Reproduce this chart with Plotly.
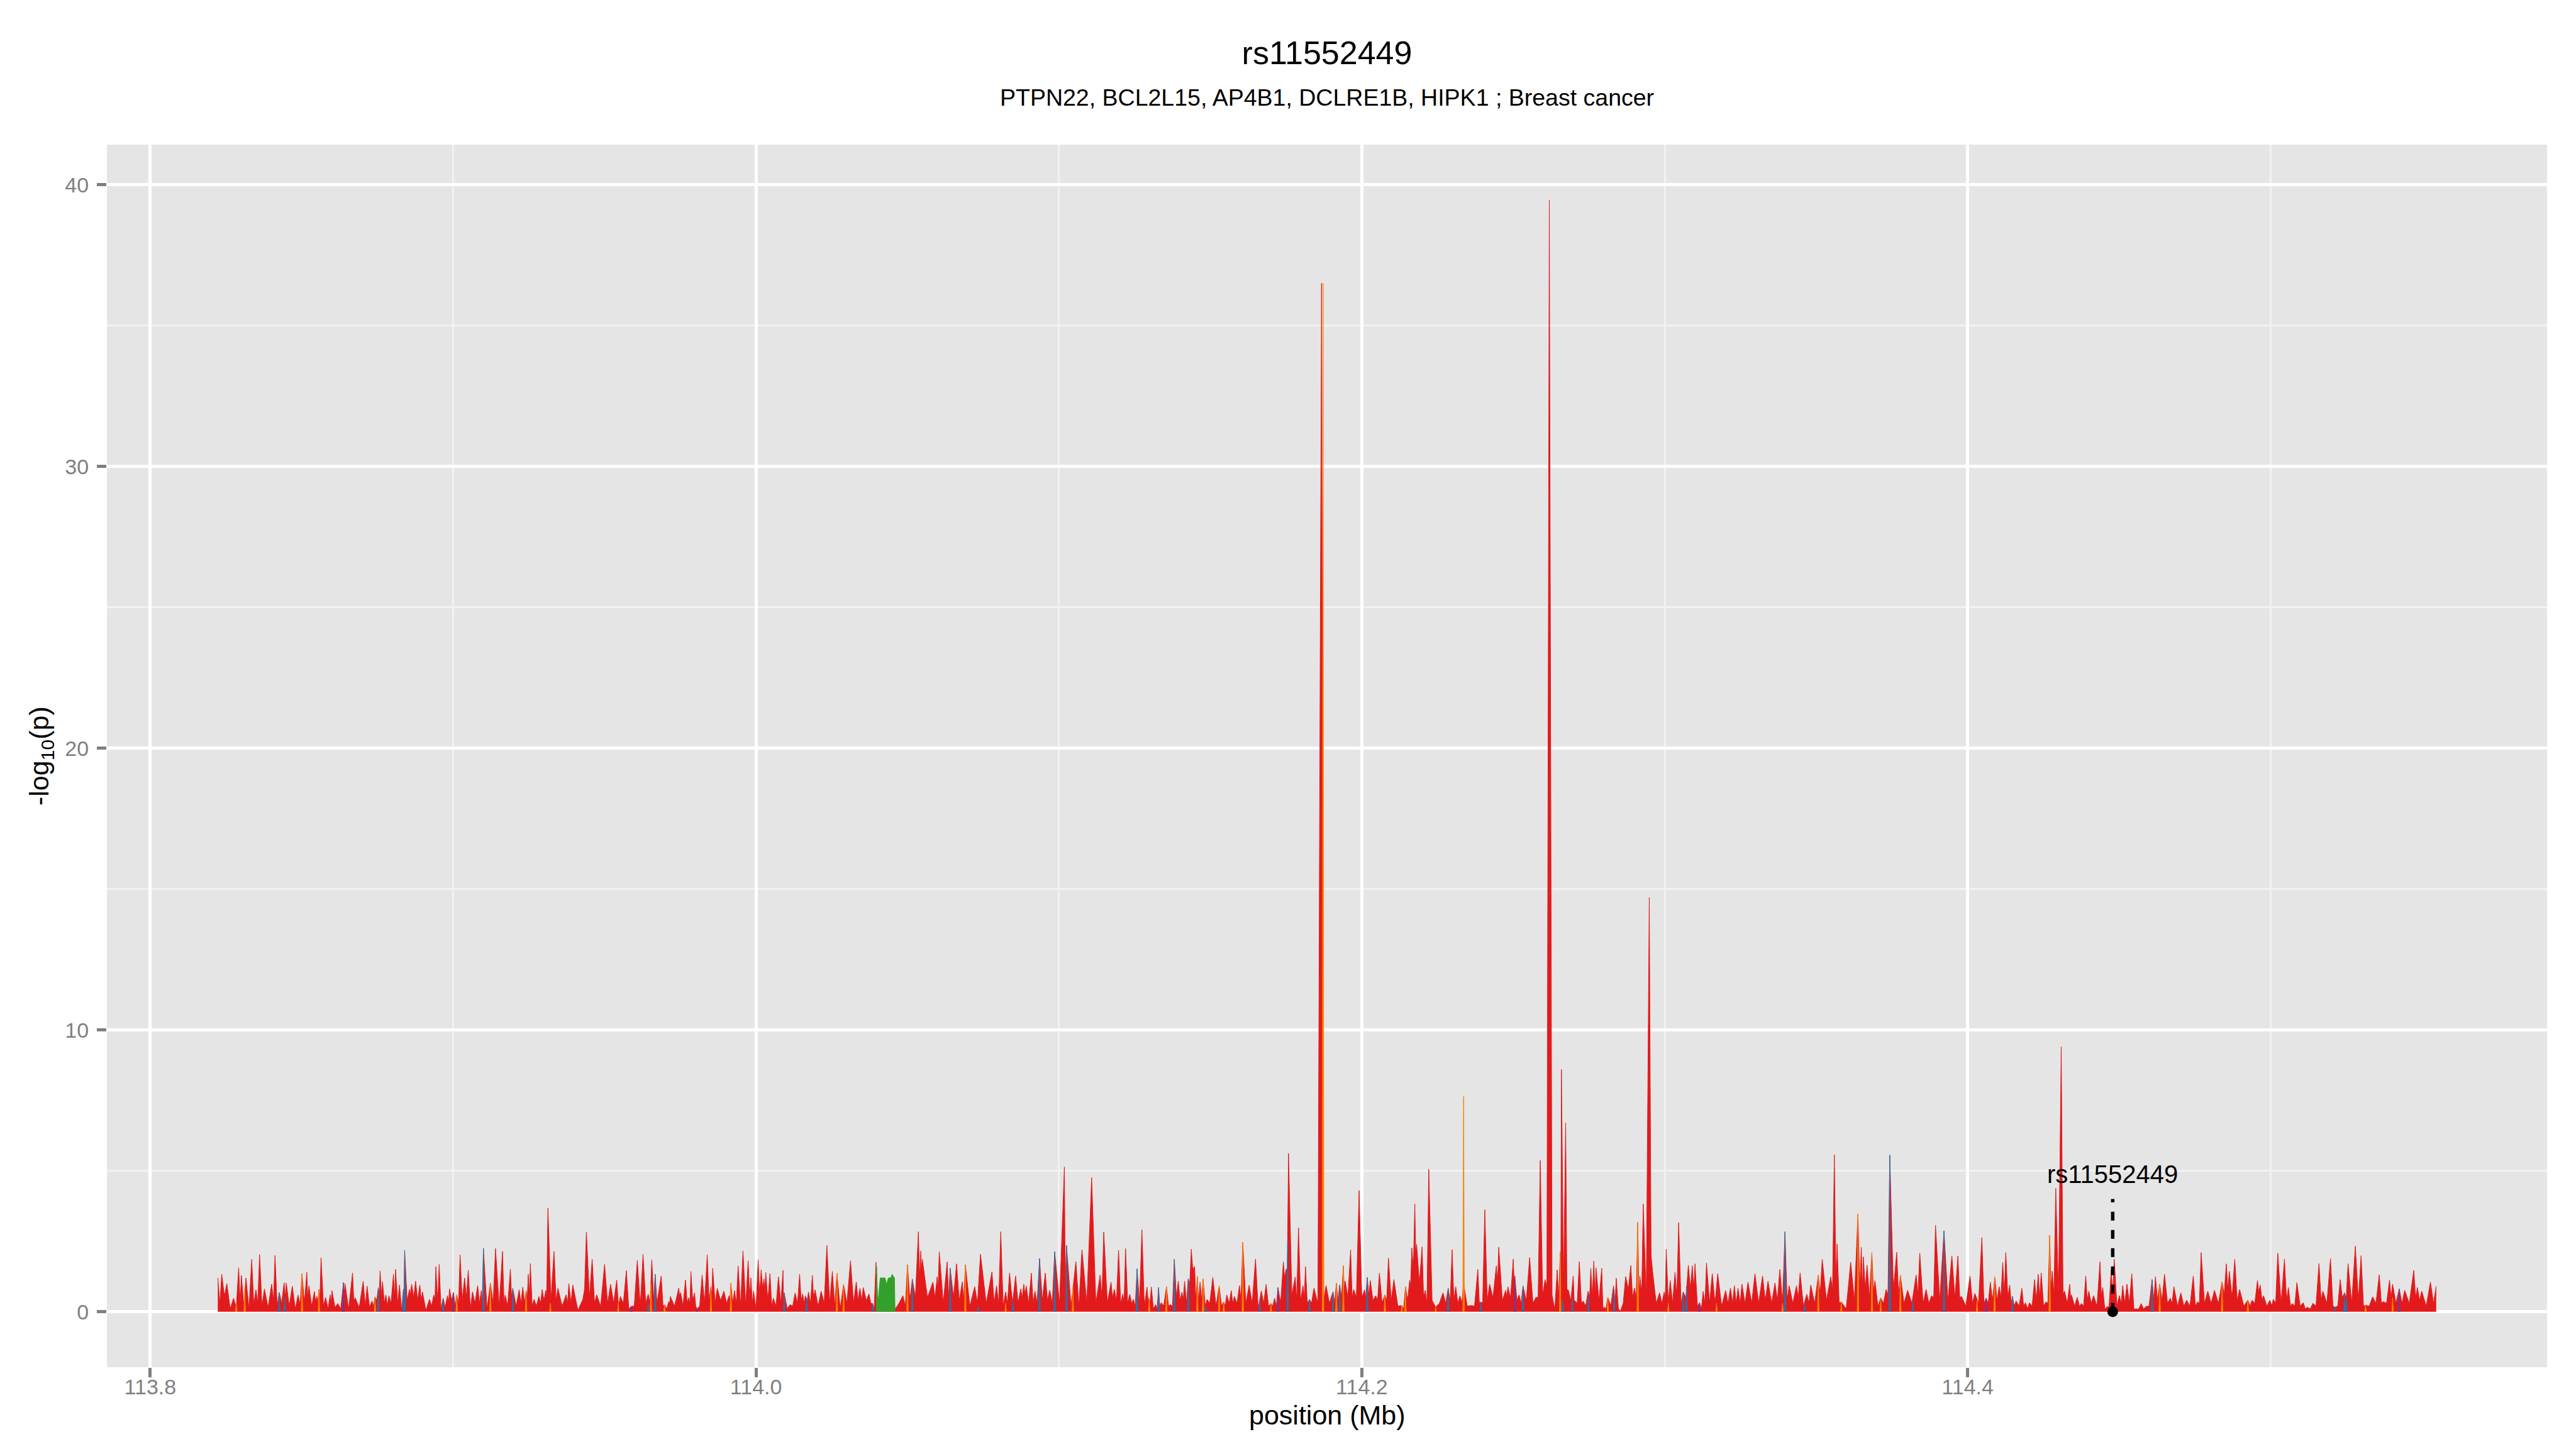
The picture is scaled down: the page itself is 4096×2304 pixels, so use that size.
import plotly.graph_objects as go

# ---------------- data (positions in kb, values = -log10 p) ----------------
red_seg1 = [(113822.3,1.2),(113823.0,0.3),(113823.6,1.33),(113824.5,0.55),(113825.3,1.0),(113826.4,0.1),(113827.5,0.48),(113828.4,0.15),(113829.2,1.56),(113829.7,0.3),(113830.1,1.29),(113830.9,0.2),(113831.6,1.2),(113832.6,0.1),(113833.5,1.86),(113834.2,0.25),(113834.9,0.78),(113835.5,0.3),(113836.1,2.03),(113836.9,0.2),(113837.7,0.81),(113838.9,0.15),(113840.1,0.98),(113840.7,0.4),(113841.2,2.0),(113841.9,0.2),(113842.6,0.68),(113843.4,0.3),(113844.2,1.03),(113844.6,0.5),(113844.9,1.02),(113845.9,0.2),(113846.9,0.91),(113847.9,0.1),(113848.8,0.59),(113849.5,0.25),(113850.1,1.35),(113850.9,0.3),(113851.7,1.4),(113852.0,0.5),(113852.4,0.92),(113853.3,0.2),(113854.2,0.72),(113854.6,0.35),(113855.0,0.54),(113855.3,0.3),(113855.7,0.79),(113856.0,0.4),(113856.4,1.92),(113857.2,0.2),(113857.9,0.51),(113858.7,0.1),(113859.4,0.6),(113859.7,0.3),(113860.0,0.75),(113861.0,0.15),(113861.9,0.29),(113862.9,0.1),(113863.8,1.03),(113864.0,0.6),(113864.3,1.0),(113865.5,0.1),(113866.8,1.38),(113867.2,0.4),(113867.7,0.49),(113869.0,0.15),(113870.3,1.08),(113871.0,0.2),(113871.6,0.91),(113872.4,0.15),(113873.2,0.38),(113873.7,0.2),(113874.2,0.53),(113874.8,0.4),(113875.3,0.86),(113875.6,0.6),(113875.9,1.45),(113876.3,0.6),(113876.7,1.06),(113877.3,0.3),(113877.8,0.6),(113878.3,0.2),(113878.8,0.57),(113879.5,0.3),(113880.3,1.33),(113880.7,0.5),(113881.0,1.5),(113881.7,0.3),(113882.3,0.95),(113883.0,0.05),(113883.6,0.8),(113883.8,0.5),(113884.0,2.18),(113884.8,0.4),(113885.6,0.79),(113885.9,0.6),(113886.3,0.98),(113887.0,0.5),(113887.6,1.09),(113888.3,0.4),(113889.0,0.95),(113889.5,0.4),(113889.9,0.7),(113891.0,0.05),(113892.2,0.44),(113892.9,0.2),(113893.6,0.59),(113894.0,0.4),(113894.3,1.6),(113894.9,0.3),(113895.4,1.68),(113896.0,0.1),(113896.7,0.48),(113897.4,0.15),(113898.1,0.57),(113898.5,0.3),(113898.8,0.81),(113899.5,0.4),(113900.1,0.68),(113900.7,0.2),(113901.2,0.6),(113901.8,0.3),(113902.3,2.02),(113903.0,0.4),(113903.8,1.2),(113904.4,0.5),(113905.0,1.47),(113905.7,0.1),(113906.4,0.71),(113907.2,0.3),(113908.1,0.93),(113908.7,0.3),(113909.3,0.75),(113909.6,0.3),(113910.0,2.25),(113911.2,0.1),(113912.3,1.02),(113913.2,0.3),(113914.0,2.24),(113915.2,0.2),(113916.3,2.14),(113916.8,0.3),(113917.2,0.59),(113918.0,0.2),(113918.9,1.52),(113919.3,0.5),(113919.7,0.83),(113920.8,0.2),(113921.8,0.78),(113922.4,0.3),(113923.0,0.87),(113923.6,0.3),(113924.1,0.74),(113924.5,0.5),(113924.8,1.33),(113925.2,0.6),(113925.5,1.71),(113926.1,0.2),(113926.7,0.44),(113927.5,0.2),(113928.3,0.54),(113928.9,0.3),(113929.4,0.79),(113930.0,0.4),(113930.6,0.76),(113930.9,0.6),(113931.3,3.68),(113932.3,0.4),(113933.3,2.14),(113934.0,0.4),(113934.6,0.83),(113936.0,0.2),(113937.3,0.6),(113937.8,0.3),(113938.2,1.0),(113938.9,0.3),(113939.5,0.95),(113941.2,0.05),(113942.8,0.43),(113943.4,0.8),(113944.0,2.83),(113945.0,0.5),(113945.9,1.86),(113946.7,0.3),(113947.4,0.6),(113948.7,0.2),(113950.0,1.68),(113951.0,0.3),(113952.0,0.97),(113953.0,0.3),(113954.0,1.13),(113954.6,0.2),(113955.2,0.54),(113956.2,0.3),(113957.2,1.46),(113958.0,0.1),(113958.8,0.19),(113959.8,0.2),(113960.8,1.82),(113961.8,0.2),(113962.7,2.04),(113963.6,0.3),(113964.4,0.62),(113965.0,0.3),(113965.6,1.84),(113966.2,0.4),(113966.7,1.33),(113967.3,0.3)]

red_seg2 = [(113968.7,1.27),(113969.3,0.2),(113969.8,0.25),(113970.5,0.1),(113971.2,0.36),(113971.5,0.3),(113971.7,0.54),(113973.1,0.2),(113974.5,0.84),(113974.8,0.5),(113975.1,0.68),(113975.9,0.2),(113976.7,1.13),(113977.3,0.3),(113977.8,0.5),(113978.2,0.3),(113978.5,1.43),(113979.1,0.4),(113979.7,0.67),(113980.1,0.2),(113980.5,0.1),(113981.4,0.2),(113982.2,1.3),(113983.0,0.3),(113983.9,2.02),(113984.5,0.4),(113985.1,0.89),(113985.4,0.6),(113985.7,1.54),(113986.5,0.3),(113987.2,0.83),(113988.3,0.4),(113989.4,0.73),(113990.3,0.3),(113991.1,0.57),(113991.4,0.4),(113991.7,1.02),(113992.3,0.3),(113992.9,0.75),(113993.5,0.3),(113994.1,1.62),(113994.9,0.2),(113995.7,2.16),(113996.6,0.2),(113997.4,1.81),(113997.9,0.5),(113998.3,1.2),(113998.8,0.3),(113999.2,0.73),(114000.0,0.1),(114000.7,1.84),(114001.2,0.6),(114001.7,1.49),(114002.2,0.8),(114002.6,1.17),(114002.9,0.7),(114003.2,1.4),(114003.9,0.4),(114004.6,1.35),(114005.2,0.2),(114005.7,0.48),(114006.6,0.2),(114007.4,1.24),(114008.2,0.3),(114008.9,1.47),(114009.1,0.3),(114009.3,0.67),(114010.3,0.1),(114011.2,0.25),(114012.1,0.2),(114012.9,0.67),(114013.7,0.3),(114014.4,1.33),(114014.9,0.4),(114015.4,0.63),(114015.9,0.3),(114016.3,0.57),(114016.8,0.3),(114017.3,0.7),(114018.0,0.3),(114018.6,1.29),(114019.0,0.5),(114019.5,0.78),(114020.5,0.2),(114021.5,0.73),(114022.5,0.3),(114023.4,2.35),(114024.3,0.3),(114025.2,1.43),(114026.0,0.2),(114026.7,1.37),(114027.8,0.1),(114028.9,0.97),(114030.0,0.3),(114031.2,1.81),(114032.2,0.3),(114033.1,1.06),(114033.7,0.4),(114034.3,0.83),(114034.9,0.4),(114035.4,0.86),(114036.4,0.4),(114037.3,0.63),(114037.9,0.3),(114038.5,0.29),(114039.0,0.1),(114039.6,1.76),(114040.2,0.2),(114041.0,0.3),(114043.0,0.2),(114045.0,0.3),(114046.0,0.1),(114047.2,0.3),(114048.5,0.57),(114049.3,0.2),(114050.0,1.67),(114050.8,0.4),(114051.6,1.16),(114052.6,0.5),(114053.6,2.84),(114054.0,1.2),(114054.4,2.16),(114054.6,1.5),(114054.9,1.87),(114056.6,0.5),(114058.4,1.05),(114059.1,0.5),(114059.8,1.24),(114060.1,0.8),(114060.5,2.13),(114061.8,0.3),(114063.1,1.77),(114063.6,0.5),(114064.1,1.54),(114065.2,0.5),(114066.2,1.7),(114067.1,0.4),(114068.1,1.06),(114068.6,0.4),(114069.1,1.67),(114070.6,0.2),(114072.2,0.89),(114073.1,0.3),(114074.1,2.04),(114076.0,0.3),(114077.9,1.42),(114078.6,0.3),(114079.4,0.92),(114080.1,0.3),(114080.8,2.84),(114081.6,0.2),(114082.4,0.7),(114083.0,0.3),(114083.7,1.37),(114084.7,0.3),(114085.7,1.27),(114086.5,0.3),(114087.4,0.81),(114087.9,0.5),(114088.4,0.98),(114088.8,0.6),(114089.2,0.92),(114090.0,0.3),(114090.9,1.37),(114091.5,0.3),(114092.1,0.73),(114092.8,0.3),(114093.6,1.89),(114094.5,0.4),(114095.5,1.37),(114096.2,0.4),(114097.0,0.76),(114097.8,0.3),(114098.6,2.13),(114100.2,0.3),(114101.8,5.14),(114102.1,1.0),(114102.5,2.35),(114104.0,0.2),(114105.6,1.78),(114106.6,0.2),(114107.6,2.2),(114109.2,0.3),(114110.8,4.76),(114112.2,0.3),(114113.6,1.3),(114114.2,0.5),(114114.8,2.83)]

red_seg3 = [(114116.0,0.3),(114117.2,1.05),(114117.7,0.5),(114118.3,0.79),(114119.0,0.4),(114119.7,2.18),(114120.4,0.3),(114121.1,0.63),(114121.5,0.3),(114122.0,2.24),(114122.7,0.3),(114123.4,0.62),(114124.0,0.3),(114124.6,0.44),(114125.2,0.2),(114125.8,1.52),(114126.6,0.3),(114127.4,2.91),(114128.2,0.2),(114129.1,0.87),(114129.4,0.4),(114129.8,0.48),(114130.1,0.3),(114130.5,0.88),(114131.2,0.1),(114131.9,0.25),(114132.4,0.1),(114132.9,0.86),(114133.3,0.2),(114133.8,0.32),(114134.6,0.2),(114135.5,0.89),(114136.2,0.2),(114136.8,0.25),(114137.5,0.2),(114138.1,1.86),(114138.8,0.5),(114139.4,1.09),(114140.0,0.4),(114140.6,0.69),(114141.0,0.4),(114141.5,1.08),(114142.1,0.3),(114142.7,1.17),(114143.2,1.0),(114143.7,2.22),(114144.2,1.5),(114144.8,1.61),(114145.2,0.4),(114145.7,1.25),(114146.1,0.3),(114146.6,1.05),(114147.1,0.4),(114147.6,1.16),(114148.3,0.2),(114148.9,0.44),(114149.8,0.3),(114150.8,1.22),(114151.9,0.2),(114152.9,0.92),(114153.7,0.2),(114154.4,0.35),(114154.9,0.2),(114155.4,0.6),(114156.2,0.3),(114156.9,0.75),(114157.4,0.3),(114157.9,0.54),(114158.8,0.3),(114159.6,0.93),(114160.1,0.4),(114160.7,2.46),(114161.7,0.3),(114162.8,0.94),(114163.8,0.3),(114164.9,1.87),(114165.8,0.1),(114166.8,0.74),(114167.6,0.3),(114168.4,0.97),(114169.2,0.2),(114170.0,0.29),(114170.6,0.2),(114171.2,0.48),(114171.8,0.2),(114172.3,0.86),(114173.2,0.3),(114174.1,1.77),(114174.5,1.2),(114175.0,1.51),(114175.4,1.5),(114175.8,5.62),(114176.9,0.6),(114178.0,1.23),(114178.5,0.4),(114179.1,2.98),(114179.8,0.4),(114180.6,0.92),(114181.0,0.5),(114181.4,1.6),(114182.0,0.3),(114182.7,0.44),(114183.4,0.3),(114184.2,0.84),(114185.5,0.3),(114186.7,36.5),(114187.4,0.4),(114188.2,0.93),(114189.3,0.3),(114190.5,0.71),(114191.0,0.3),(114191.6,1.02),(114192.1,0.4),(114192.7,0.95),(114193.3,0.5),(114193.9,1.63),(114194.2,0.8),(114194.5,1.09),(114195.4,0.5),(114196.3,2.2),(114196.8,0.5),(114197.3,0.79),(114198.2,0.5),(114199.1,4.3),(114200.0,0.5),(114200.9,0.78),(114201.3,0.5),(114201.8,1.22),(114202.3,0.6),(114202.8,1.11),(114203.7,0.4),(114204.6,0.57),(114205.2,0.4),(114205.8,1.37),(114206.7,0.3),(114207.6,0.6),(114208.2,0.4),(114208.8,1.9),(114209.7,0.4),(114210.6,1.14),(114211.9,0.2),(114213.2,0.22),(114213.8,0.1),(114214.4,0.89),(114215.1,0.4),(114215.8,1.12),(114216.1,0.9),(114216.5,2.27),(114217.0,1.5),(114217.5,3.82),(114217.8,2.0),(114218.1,2.39),(114219.0,1.0),(114219.9,2.3),(114220.4,0.5),(114220.9,0.76),(114221.5,0.3),(114222.1,5.06),(114223.2,0.4),(114224.4,0.16),(114225.6,0.3),(114226.8,0.67),(114227.7,0.3),(114228.5,0.83),(114229.2,0.4),(114229.8,2.2),(114230.4,0.4),(114231.0,0.89),(114231.7,0.3),(114232.4,0.57),(114233.0,0.3),(114233.6,1.0),(114234.8,0.2),(114236.0,0.22),(114237.2,0.2),(114238.3,1.5),(114238.8,0.3),(114239.2,0.35),(114239.9,0.3),(114240.6,3.62),(114241.4,0.4),(114242.2,0.98),(114243.3,0.5),(114244.4,1.63),(114244.8,1.0),(114245.2,2.29),(114246.4,0.4),(114247.5,0.76),(114247.9,0.5),(114248.2,0.89),(114249.1,0.5),(114250.0,1.87),(114250.3,1.0),(114250.5,1.27),(114251.2,0.4),(114251.9,0.6),(114252.6,0.3),(114253.2,0.92),(114254.3,0.4),(114255.4,1.92),(114256.5,0.3),(114257.5,0.51),(114258.2,0.5),(114258.9,5.37),(114259.7,0.6),(114260.5,1.14),(114261.1,0.9),(114261.9,39.45)]

red_seg4 = [(114262.8,0.6),(114263.7,0.06),(114264.5,1.49),(114265.0,0.5),(114265.5,2.13),(114265.7,1.0),(114265.9,8.6),(114266.6,0.8),(114267.3,6.7),(114267.7,0.8),(114268.2,0.76),(114269.0,0.4),(114269.8,1.27),(114270.1,0.4),(114270.4,0.38),(114271.1,0.3),(114271.8,1.78),(114272.5,0.3),(114273.1,0.38),(114273.9,0.2),(114274.7,0.73),(114275.2,0.5),(114275.6,1.54),(114276.1,0.5),(114276.6,1.8),(114277.0,0.5),(114277.3,1.56),(114278.3,0.4),(114279.2,1.54),(114279.6,0.1),(114280.0,0.16),(114280.6,0.1),(114281.2,0.51),(114282.2,0.2),(114283.1,0.92),(114283.6,0.3),(114284.0,1.19),(114284.7,0.1),(114285.4,0.03),(114286.3,0.3),(114287.1,1.25),(114288.0,0.8),(114288.8,1.64),(114289.4,0.5),(114290.0,0.84),(114290.6,0.5),(114291.1,3.17),(114291.5,0.5),(114291.8,1.27),(114292.4,0.6),(114292.9,3.83),(114293.9,0.5),(114294.9,14.7),(114295.5,2.0),(114296.1,1.33),(114297.2,0.3),(114298.3,0.67),(114299.1,0.3),(114299.8,0.7),(114300.2,0.5),(114300.5,2.22),(114301.2,0.3),(114301.8,1.11),(114302.6,0.3),(114303.4,1.4),(114304.0,0.5),(114304.6,3.16),(114305.4,0.3),(114306.1,0.7),(114307.0,0.5),(114307.8,1.65),(114308.5,0.8),(114309.1,1.63),(114309.6,0.8),(114310.0,1.7),(114310.8,0.2),(114311.5,0.32),(114312.1,0.1),(114312.7,0.72),(114313.3,0.3),(114313.8,1.73),(114314.8,0.3),(114315.7,1.35),(114316.6,0.3),(114317.5,1.35),(114318.8,0.2),(114320.1,0.75),(114320.9,0.3),(114321.7,0.84),(114322.4,0.3),(114323.0,0.92),(114323.6,0.3),(114324.2,0.83),(114324.9,0.3),(114325.5,0.98),(114326.5,0.3),(114327.5,1.05),(114328.7,0.3),(114329.8,1.35),(114331.0,0.3),(114332.3,1.27),(114333.2,0.4),(114334.1,1.09),(114335.3,0.3),(114336.4,1.02),(114337.2,0.4),(114338.0,1.5),(114338.9,0.3),(114339.7,2.84),(114340.4,0.4),(114341.1,0.92),(114342.3,0.3),(114343.5,0.92),(114344.1,0.5),(114344.7,1.38),(114345.8,0.2),(114346.9,0.62),(114347.6,0.3),(114348.2,0.95),(114349.5,0.3),(114350.7,1.3),(114351.3,0.6),(114352.0,1.86),(114353.4,0.4),(114354.8,1.24),(114355.4,0.8),(114356.0,5.57),(114356.5,1.2),(114356.9,2.41),(114357.6,0.3),(114358.3,0.35),(114359.9,0.1),(114361.4,1.76),(114362.6,0.4),(114363.8,3.47),(114364.4,0.8),(114364.9,2.29),(114365.3,0.8),(114365.6,1.95),(114366.2,0.8),(114366.8,1.65),(114367.6,0.5),(114368.4,2.1),(114368.9,0.7),(114369.4,1.1),(114370.4,0.2),(114371.3,0.49),(114372.2,0.3),(114373.1,0.79),(114373.7,0.6),(114374.3,5.56),(114375.5,0.8),(114376.6,2.11),(114377.2,0.6),(114377.8,1.29),(114379.0,0.3),(114380.2,0.76),(114381.6,0.3),(114383.0,1.31),(114383.6,0.6),(114384.2,2.08),(114385.3,0.3),(114386.3,0.79),(114387.2,0.3),(114388.1,0.57),(114388.8,0.5),(114389.4,3.07),(114390.8,0.4),(114392.2,2.87),(114393.5,0.4),(114394.8,1.98),(114395.8,0.5),(114396.8,1.98),(114397.4,0.5),(114398.0,0.54),(114399.4,0.2),(114400.8,1.27),(114401.6,0.3),(114402.4,0.65),(114403.6,0.3),(114404.7,2.63),(114405.4,0.3),(114406.1,0.48),(114406.8,0.3),(114407.5,1.05),(114408.2,0.4)]

red_seg5 = [(114409.0,1.2),(114409.7,0.4),(114410.4,0.89),(114411.0,0.5),(114411.6,1.75),(114412.1,0.6),(114412.6,2.1),(114413.3,0.5),(114413.9,0.95),(114414.4,0.3),(114414.8,0.54),(114415.4,0.2),(114416.0,0.38),(114417.0,0.2),(114417.9,0.83),(114418.5,0.2),(114419.1,0.32),(114419.8,0.1),(114420.4,0.32),(114421.3,0.2),(114422.1,1.14),(114422.7,0.4),(114423.3,1.33),(114423.8,0.5),(114424.3,1.38),(114425.1,0.2),(114425.9,0.35),(114426.5,0.3),(114427.1,2.71),(114427.5,0.8),(114427.9,1.44),(114428.5,0.6),(114429.1,4.38),(114430.0,0.6),(114430.9,9.4),(114431.5,0.6),(114432.0,0.73),(114432.9,0.3),(114433.7,0.97),(114434.0,0.5),(114434.3,0.6),(114435.3,0.2),(114436.2,0.51),(114436.9,0.2),(114437.6,0.29),(114438.3,0.2),(114439.0,1.27),(114439.5,0.4),(114440.0,0.73),(114440.8,0.3),(114441.6,0.57),(114442.7,0.2),(114443.7,1.77),(114444.2,0.5),(114444.6,0.86),(114445.3,0.1),(114445.9,0.16),(114446.7,0.2),(114447.4,1.49),(114447.9,0.6),(114448.4,1.86),(114449.3,0.2),(114450.1,0.57),(114450.7,0.3),(114451.2,0.93),(114451.9,0.3),(114452.6,0.98),(114453.4,0.3),(114454.2,1.35),(114454.9,0.1),(114455.6,0.1),(114456.5,0.1),(114457.3,0.29),(114458.1,0.1),(114458.9,0.19),(114459.9,0.2),(114460.9,1.14),(114461.5,0.4),(114462.0,1.24),(114462.7,0.4),(114463.4,0.98),(114464.2,0.4),(114465.0,1.33),(114466.0,0.3),(114466.9,0.48),(114467.5,0.3),(114468.1,0.89),(114469.3,0.2),(114470.4,0.67),(114471.4,0.2),(114472.3,0.41),(114473.4,0.2),(114474.5,1.27),(114475.2,0.2),(114475.9,0.35),(114476.5,0.3),(114477.1,2.1),(114478.2,0.3),(114479.3,0.73),(114480.4,0.3),(114481.5,0.76),(114482.8,0.3),(114484.0,1.06),(114484.7,0.6),(114485.4,1.7),(114485.9,0.8),(114486.4,1.43),(114487.3,0.5),(114488.2,1.86),(114489.0,0.4),(114489.8,0.79),(114491.2,0.2),(114492.5,0.41),(114493.2,0.2),(114493.9,0.41),(114494.8,0.3),(114495.7,1.11),(114496.1,0.7),(114496.6,0.95),(114497.2,0.4),(114497.7,0.57),(114498.8,0.2),(114499.8,0.41),(114500.4,0.2),(114500.9,0.44),(114501.7,0.3),(114502.4,2.08),(114503.5,0.3),(114504.6,1.87),(114505.3,0.4),(114505.9,0.86),(114506.6,0.2),(114507.2,0.29),(114508.0,0.2),(114508.7,1.03),(114509.8,0.2),(114510.8,0.32),(114511.5,0.1),(114512.2,0.16),(114513.1,0.1),(114514.0,0.3),(114515.0,0.2),(114516.0,1.71),(114516.7,0.4),(114517.3,0.73),(114518.6,0.3),(114519.8,1.89),(114520.6,0.2),(114521.3,0.16),(114522.2,0.2),(114523.0,1.14),(114523.7,0.5),(114524.4,0.67),(114525.0,0.5),(114525.6,1.71),(114526.8,0.3),(114528.0,2.33),(114529.0,0.4),(114529.9,1.99),(114530.7,0.2),(114531.4,0.23),(114532.6,0.2),(114533.7,0.53),(114534.8,0.3),(114535.9,1.31),(114536.6,0.3),(114537.2,0.36),(114538.3,0.3),(114539.3,1.12),(114539.8,0.5),(114540.3,0.98),(114541.4,0.3),(114542.5,0.81),(114543.4,0.3),(114544.3,0.76),(114545.8,0.3),(114547.3,1.47),(114547.9,0.5),(114548.5,0.86),(114549.2,0.4),(114549.9,0.73),(114551.4,0.2),(114552.8,1.05),(114553.8,0.3),(114554.7,0.9)]

orange_spikes = [(113828.4,0.3),(113831.2,0.8),(113850.1,1.35),(113855.7,0.79),(113874.2,0.53),(113901.2,0.6),(113912.3,1.02),(113924.1,0.74),(113932.1,0.3),(113954.5,0.3),(113965.3,1.0),(113969.8,0.25),(113985.1,0.89),(113991.7,1.02),(114026.7,1.37),(114028.9,0.97),(114050.0,1.67),(114069.1,1.67),(114082.4,0.3),(114104.6,0.9),(114129.8,0.48),(114135.5,0.89),(114145.7,1.25),(114147.6,1.16),(114152.9,0.92),(114154.4,0.35),(114160.7,2.46),(114170.0,0.29),(114187.2,36.5),(114191.6,1.02),(114193.9,1.63),(114207.6,0.6),(114213.2,0.22),(114214.4,0.89),(114224.4,0.16),(114233.6,7.64),(114265.5,2.13),(114281.2,0.51),(114291.1,3.17),(114301.2,0.3),(114317.1,0.3),(114338.9,0.3),(114350.7,1.3),(114358.3,0.35),(114363.8,3.47),(114368.4,2.1),(114371.3,0.49),(114377.8,1.29),(114403.1,0.4),(114408.9,1.27),(114427.1,2.71),(114463.4,0.98),(114484.0,1.06),(114492.5,0.41),(114531.4,0.23),(114540.3,0.5)]

blue_spikes = [(113842.6,0.68),(113844.4,0.5),(113875.3,0.86),(113883.6,0.8),(113884.0,2.18),(113896.7,0.48),(113910.0,2.25),(113919.7,0.83),(113964.4,0.3),(113966.7,1.33),(114009.3,0.67),(114016.7,0.5),(114038.5,0.29),(114051.6,1.16),(114064.1,1.54),(114073.4,0.2),(114084.8,0.4),(114093.6,1.89),(114098.6,2.13),(114102.5,2.35),(114125.8,1.52),(114132.9,0.86),(114138.1,1.86),(114142.7,1.17),(114148.5,0.2),(114166.3,0.4),(114175.5,2.5),(114182.7,0.44),(114190.5,0.71),(114192.7,0.95),(114201.8,1.22),(114228.5,0.83),(114239.2,0.35),(114253.2,0.92),(114266.4,0.4),(114269.5,0.5),(114274.8,0.6),(114283.3,0.8),(114306.1,0.7),(114307.2,0.9),(114339.7,2.84),(114346.2,0.3),(114374.3,5.56),(114381.9,0.4),(114392.2,2.87),(114414.8,0.54),(114460.9,1.14),(114521.3,0.16),(114524.4,0.67),(114525.0,0.5)]

purple_spikes = [(113863.8,1.03),(113900.1,0.68),(113958.8,0.19),(113980.5,0.1),(114172.3,0.86),(114250.5,1.27),(114311.5,0.32),(114406.1,0.48),(114542.5,0.81)]

green_block = [(114039.7,0.0),(114039.8,1.6),(114040.2,0.25),(114041.0,1.2),(114042.6,1.2),(114043.1,0.97),(114043.7,1.2),(114044.5,1.2),(114044.9,1.33),(114045.7,1.2),(114045.9,0.0)]

snp_label = "rs11552449"
snp_kb = 114447.9
snp_logp = 0.0
snp_line_top = 4.0
snp_label_y = 4.88

title_text = "rs11552449"
subtitle_text = "PTPN22, BCL2L15, AP4B1, DCLRE1B, HIPK1 ; Breast cancer"
x_title = "position (Mb)"
y_title = "-log<sub>10</sub>(p)"

# ---------------- styling ----------------
RED, ORANGE, BLUE, GREEN, PURPLE = "#E31A1C", "#FF7F00", "#1F78B4", "#33A02C", "#6A3D9A"
SPIKE_HW = 0.25  # half width (kb) used to draw isolated spikes
FONT = "Liberation Sans, Arial, Helvetica, sans-serif"
GREY = "#7F7F7F"


def unzip(pairs):
    return [p[0] / 1000.0 for p in pairs], [p[1] for p in pairs]


def spikes(pairs):
    xs, ys = [], []
    for kb, v in pairs:
        xs += [(kb - SPIKE_HW) / 1000.0, kb / 1000.0, (kb + SPIKE_HW) / 1000.0, None]
        ys += [0.0, v, 0.0, None]
    return xs, ys


fig = go.Figure()

rx, ry = unzip(red_seg1 + red_seg2 + red_seg3 + red_seg4 + red_seg5)
fig.add_trace(go.Scatter(x=rx, y=ry, mode="lines", fill="tozeroy",
                         line=dict(color=RED, width=1), fillcolor=RED, hoverinfo="skip"))

for pairs, col in [(orange_spikes, ORANGE), (blue_spikes, BLUE), (purple_spikes, PURPLE)]:
    sx, sy = spikes(pairs)
    fig.add_trace(go.Scatter(x=sx, y=sy, mode="lines", fill="toself",
                             line=dict(color=col, width=1), fillcolor=col, hoverinfo="skip"))

gx, gy = unzip(green_block)
fig.add_trace(go.Scatter(x=gx, y=gy, mode="lines", fill="tozeroy",
                         line=dict(color=GREEN, width=1), fillcolor=GREEN, hoverinfo="skip"))

# SNP marker
fig.add_trace(go.Scatter(x=[snp_kb / 1000.0, snp_kb / 1000.0], y=[snp_logp, snp_line_top], mode="lines",
                         line=dict(color="black", width=5.5, dash="14px,15px"), hoverinfo="skip"))
fig.add_trace(go.Scatter(x=[snp_kb / 1000.0], y=[snp_logp], mode="markers",
                         marker=dict(color="black", size=17), hoverinfo="skip"))

fig.add_annotation(x=snp_kb / 1000.0, y=snp_label_y, text=snp_label, showarrow=False,
                   xanchor="center", yanchor="middle", font=dict(family=FONT, size=40, color="black"))

W, H = 4096, 2304
ML, MR, MT, MB = 162, 54, 222, 138
PW, PH = W - ML - MR, H - MT - MB

fig.add_annotation(xref="paper", yref="paper", x=0.5, y=(H - 147 - MB) / PH, text=subtitle_text,
                   showarrow=False, xanchor="center", yanchor="middle",
                   font=dict(family=FONT, size=37.5, color="black"))
fig.add_annotation(xref="paper", yref="paper", x=0.5, y=-(2242 - (H - MB)) / PH, text=x_title,
                   showarrow=False, xanchor="center", yanchor="middle",
                   font=dict(family=FONT, size=43, color="black"))
fig.add_annotation(xref="paper", yref="paper", x=-(ML - 57) / PW, y=0.5, text=y_title, textangle=-90,
                   showarrow=False, xanchor="center", yanchor="middle",
                   font=dict(family=FONT, size=43, color="black"))

fig.update_layout(
    width=W, height=H,
    margin=dict(l=ML, r=MR, t=MT, b=MB),
    paper_bgcolor="white", plot_bgcolor="#E5E5E5",
    showlegend=False,
    font=dict(family=FONT, color="black"),
    title=dict(text=title_text, x=0.5, xref="paper", y=1 - 76 / H, yref="container",
               xanchor="center", yanchor="middle", font=dict(family=FONT, size=52, color="black")),
)

fig.update_xaxes(range=[113.7857, 114.5913], tick0=113.8, dtick=0.2, tickformat=".1f",
                 showgrid=True, gridcolor="white", gridwidth=5, zeroline=False,
                 ticks="outside", ticklen=15, tickwidth=5, tickcolor=GREY,
                 tickfont=dict(family=FONT, size=34, color=GREY), ticklabelstandoff=-14,
                 minor=dict(dtick=0.1, showgrid=True, gridcolor="#F2F2F2", gridwidth=2.6, ticks=""),
                 showline=False)
fig.update_yaxes(range=[-1.97, 41.42], tick0=0, dtick=10,
                 showgrid=True, gridcolor="white", gridwidth=5, zeroline=False,
                 ticks="outside", ticklen=15, tickwidth=5, tickcolor=GREY,
                 tickfont=dict(family=FONT, size=34, color=GREY), ticklabelstandoff=6,
                 minor=dict(dtick=5, showgrid=True, gridcolor="#F2F2F2", gridwidth=2.6, ticks=""),
                 showline=False)

fig.write_html("out.html")
